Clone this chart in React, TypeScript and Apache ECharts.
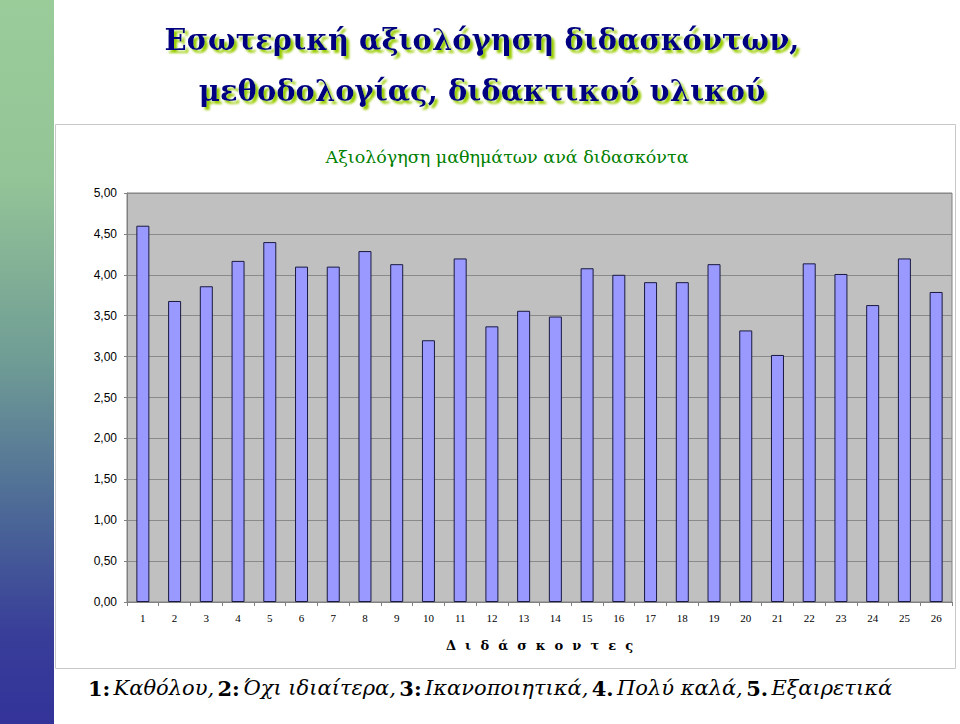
import React, { useEffect, useRef } from "react";
import * as echarts from "echarts";

const categories = ["1","2","3","4","5","6","7","8","9","10","11","12","13","14","15","16","17","18","19","20","21","22","23","24","25","26"];
const scores = [4.60,3.68,3.86,4.17,4.40,4.10,4.10,4.29,4.13,3.20,4.20,3.37,3.56,3.49,4.08,4.00,3.91,3.91,4.13,3.32,3.02,4.14,4.01,3.63,4.20,3.79];
const titleLine1 = "Εσωτερική αξιολόγηση διδασκόντων,";
const titleLine2 = "μεθοδολογίας, διδακτικού υλικού";
const chartTitle = "Αξιολόγηση μαθημάτων ανά διδασκόντα";
const axisName = "Δ  ι  δ  ά  σ  κ  ο  ν  τ  ε  ς";
const scale = [
  ["1:", "Καθόλου,"],
  ["2:", "Όχι ιδιαίτερα,"],
  ["3:", "Ικανοποιητικά,"],
  ["4.", "Πολύ καλά,"],
  ["5.", "Εξαιρετικά"],
];

export default function App() {
  const ref = useRef<HTMLDivElement>(null);
  useEffect(() => {
    document.body.style.margin = "0";
    const chart = echarts.init(ref.current!, undefined, { renderer: "svg" });
    const legendText = scale.map(([n, w]) => `{b|${n}} {i|${w}}`).join(" ");
    const titleStyle = {
      fontFamily: "DejaVu Serif",
      fontSize: 29,
      fontWeight: "bold",
      fill: "#000080",
      align: "center",
      verticalAlign: "middle",
      textShadowColor: "#99cc00",
      textShadowOffsetX: 3,
      textShadowOffsetY: 3,
      textShadowBlur: 2,
    };
    chart.setOption({
      animation: false,
      backgroundColor: "#ffffff",
      graphic: [
        {
          type: "rect",
          shape: { x: 0, y: 0, width: 54, height: 724 },
          style: {
            fill: new echarts.graphic.LinearGradient(0, 0, 0, 1, [
              { offset: 0, color: "#99cc99" },
              { offset: 0.25, color: "#93c497" },
              { offset: 0.5, color: "#6f9c95" },
              { offset: 0.72, color: "#4a6597" },
              { offset: 0.88, color: "#383d99" },
              { offset: 1, color: "#333399" },
            ]),
          },
          z: 0,
        },
        {
          type: "rect",
          shape: { x: 55.5, y: 124.5, width: 900, height: 544 },
          style: { fill: "#ffffff", stroke: "#c8c8c8", lineWidth: 1 },
          z: -1,
        },
        { type: "text", x: 482, y: 40, style: { ...titleStyle, text: titleLine1 } },
        { type: "text", x: 482, y: 91, style: { ...titleStyle, text: titleLine2 } },
        {
          type: "text",
          x: 507,
          y: 157,
          style: {
            text: chartTitle,
            fontFamily: "DejaVu Serif",
            fontSize: 17.5,
            fill: "#008000",
            align: "center",
            verticalAlign: "middle",
          },
        },
        {
          type: "text",
          x: 490,
          y: 688,
          style: {
            text: legendText,
            align: "center",
            verticalAlign: "middle",
            rich: {
              b: { fontFamily: "DejaVu Serif", fontWeight: "bold", fontSize: 21, fill: "#000000" },
              i: { fontFamily: "DejaVu Serif", fontStyle: "italic", fontSize: 21, fill: "#000000" },
            },
          },
        },
      ],
      grid: { left: 127, right: 8, top: 193, bottom: 122, containLabel: false,
        show: true, backgroundColor: "#c0c0c0", borderColor: "#808080", borderWidth: 1 },
      xAxis: {
        type: "category",
        data: categories,
        name: axisName,
        nameLocation: "middle",
        nameGap: 37,
        nameTextStyle: { color: "#000000", fontWeight: "bold", fontFamily: "DejaVu Serif", fontSize: 13 },
        axisLine: { show: true, lineStyle: { color: "#808080" } },
        axisTick: { show: true, length: 4, lineStyle: { color: "#808080" } },
        axisLabel: { color: "#000000", fontFamily: "Liberation Serif", fontSize: 11, margin: 10 },
      },
      yAxis: {
        type: "value",
        min: 0,
        max: 5,
        interval: 0.5,
        axisLine: { show: true, lineStyle: { color: "#808080" } },
        axisTick: { show: true, length: 3, lineStyle: { color: "#808080" } },
        splitLine: { show: true, lineStyle: { color: "#8a8a8a", width: 1 } },
        axisLabel: {
          color: "#000000",
          fontFamily: "Liberation Sans",
          fontSize: 12,
          margin: 10,
          formatter: (v: number) => v.toFixed(2).replace(".", ","),
        },
      },
      series: [
        {
          type: "bar",
          data: scores,
          barWidth: 13,
          itemStyle: { color: "#9999ff", borderColor: "#1a1a40", borderWidth: 1 },
        },
      ],
    });
    return () => chart.dispose();
  }, []);
  return <div ref={ref} style={{ width: 960, height: 724, position: "absolute", left: 0, top: 0 }} />;
}
